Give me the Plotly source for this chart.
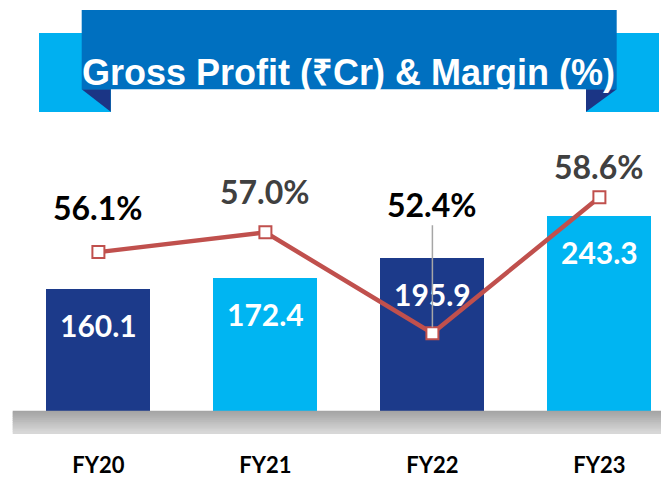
import plotly.graph_objects as go

# ---- data ----
years = ["FY20", "FY21", "FY22", "FY23"]
gross_profit = [160.1, 172.4, 195.9, 243.3]
margin_pct = [56.1, 57.0, 52.4, 58.6]
margin_labels = ["56.1%", "57.0%", "52.4%", "58.6%"]
title_text = "Gross Profit (₹Cr) & Margin (%)"

# ---- style ----
W, H = 669, 482
OX, OY = 8, 8  # page body margin offset
DARK = "#1C3A8A"
LIGHT = "#00B5F2"
bar_colors = [DARK, LIGHT, DARK, LIGHT]
label_colors = ["#000000", "#404040", "#000000", "#404040"]
label_shift = [45, 41, None, 31]
FONT = "Lato"


def px(x):
    return (x - OX) / W


def py(y):
    return 1 - (y - OY) / H


fig = go.Figure()
fig.add_trace(go.Bar(
    x=years, y=gross_profit, marker=dict(color=bar_colors, line=dict(width=0)),
    width=0.623, yaxis="y", hoverinfo="skip",
))
fig.add_trace(go.Scatter(
    x=years, y=margin_pct, yaxis="y2", mode="lines+markers",
    line=dict(color="#C0504D", width=4.5),
    marker=dict(symbol="square", size=12, color="white",
                line=dict(color="#C0504D", width=2)),
    hoverinfo="skip",
))

annotations = []
for cat, v in zip(years, gross_profit):
    annotations.append(dict(
        x=cat, y=v, xref="x", yref="y", text=f"<b>{v:.1f}</b>", showarrow=False,
        yshift=-36, font=dict(family=FONT, size=30, color="white"),
    ))
for i, (cat, v, t) in enumerate(zip(years, margin_pct, margin_labels)):
    if label_shift[i] is None:
        annotations.append(dict(
            x=cat, y=v, xref="x", yref="y2", text=f"<b>{t}</b>", showarrow=True,
            arrowhead=0, arrowwidth=1.5, arrowcolor="#A6A6A6", ax=0, ay=-129,
            standoff=6, font=dict(family=FONT, size=32, color=label_colors[i]),
        ))
    else:
        annotations.append(dict(
            x=cat, y=v, xref="x", yref="y2", text=f"<b>{t}</b>", showarrow=False,
            yshift=label_shift[i], font=dict(family=FONT, size=32, color=label_colors[i]),
        ))

# title banner
annotations.append(dict(
    x=px(349), y=py(50), xref="paper", yref="paper", text="<b>" + title_text + "</b>",
    showarrow=False, font=dict(family="Liberation Sans", size=36, color="white"),
))

shapes = []
for x0, x1 in [(39, 111), (586, 659)]:
    shapes.append(dict(type="rect", xref="paper", yref="paper", x0=px(x0), x1=px(x1),
                       y0=py(112), y1=py(33), fillcolor="#00B0F0", line=dict(width=0),
                       layer="above"))
shapes.append(dict(type="path", xref="paper", yref="paper",
                   path=f"M {px(81.7)} {py(89.3)} L {px(110.7)} {py(89.3)} L {px(110.7)} {py(111.7)} Z",
                   fillcolor="#1B3585", line=dict(width=0), layer="above"))
shapes.append(dict(type="path", xref="paper", yref="paper",
                   path=f"M {px(586)} {py(89.3)} L {px(616.7)} {py(89.3)} L {px(586)} {py(111.7)} Z",
                   fillcolor="#1B3585", line=dict(width=0), layer="above"))
shapes.append(dict(type="rect", xref="paper", yref="paper", x0=px(81.7), x1=px(616.7),
                   y0=py(89.3), y1=py(10), fillcolor="#0070C0", line=dict(width=0),
                   layer="above"))

# gray floor band with gradient
top, bot = 411.7, 434.0
n = 12
c0, c1 = 0xA2, 0xDA
for k in range(n):
    y0 = top + (bot - top) * k / n
    y1 = top + (bot - top) * (k + 1) / n
    c = int(c0 + (c1 - c0) * (k + 0.5) / n)
    shapes.append(dict(type="rect", xref="paper", yref="paper", x0=px(12.7), x1=1,
                       y0=py(y1), y1=py(y0) + 0.002, fillcolor=f"rgb({c},{c},{c})",
                       line=dict(width=0), layer="above"))

cx0 = 98.4 - OX          # FY20 centre in figure px
zero_px = 429.5 - OY      # bar zero in figure px
mid2 = 253.75 - OY        # px of 56.025 on secondary axis
s1 = 0.8774
s2 = 21.93
fig.update_layout(
    width=W, height=H, margin=dict(l=0, r=0, t=0, b=0),
    paper_bgcolor="white", plot_bgcolor="white", showlegend=False,
    bargap=0,
    xaxis=dict(range=[-cx0 / 167, (W - cx0) / 167], anchor="free",
               position=1 - zero_px / H, showgrid=False, zeroline=False,
               showline=False, ticks="", ticklabelstandoff=20,
               tickfont=dict(family=FONT, size=22, color="black", weight="bold")),
    yaxis=dict(range=[-(H - zero_px) / s1, zero_px / s1], visible=False,
               showgrid=False, zeroline=False),
    yaxis2=dict(range=[56.025 - (H - mid2) / s2, 56.025 + mid2 / s2],
                overlaying="y", visible=False, showgrid=False, zeroline=False),
    annotations=annotations, shapes=shapes,
)

fig.write_html("out.html")
